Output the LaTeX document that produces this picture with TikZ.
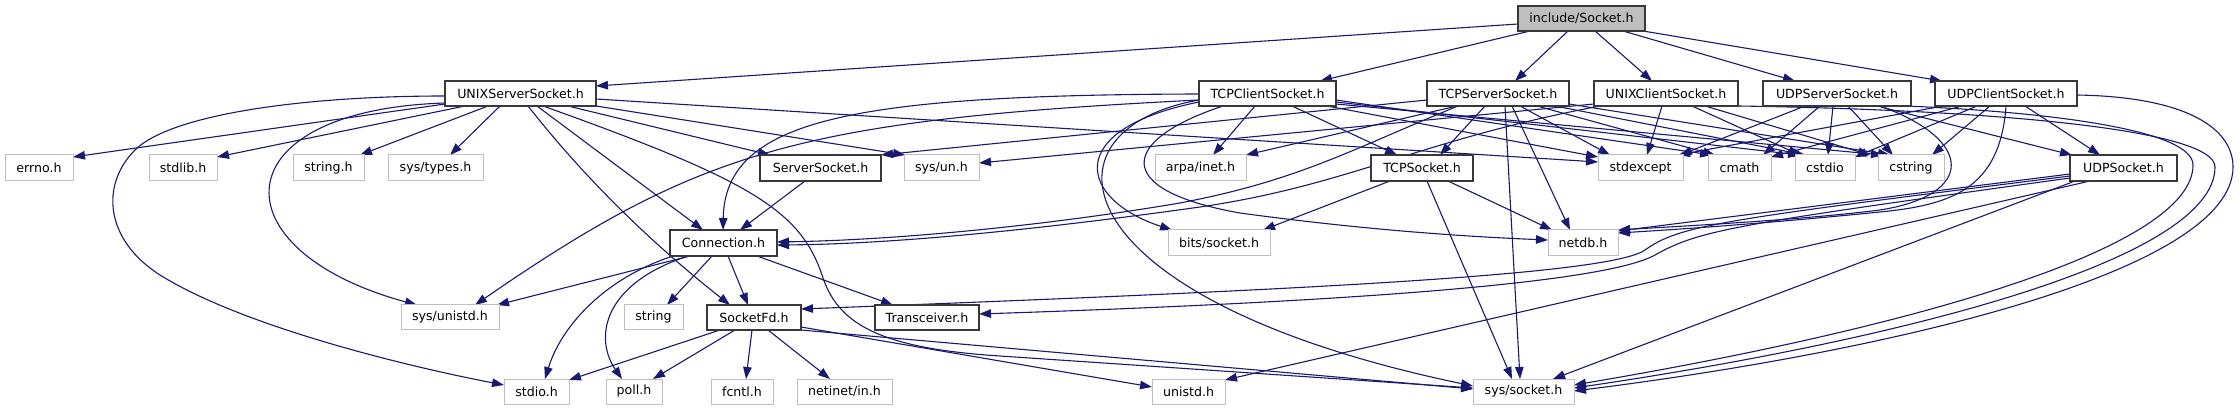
\documentclass[tikz,border=0pt]{standalone}
\usepackage{fontspec}
\setmainfont{DejaVu Sans}
\usetikzlibrary{arrows.meta,backgrounds}
\definecolor{eb}{HTML}{191970}
\definecolor{gb}{HTML}{BFBFBF}
\newcommand\mknode[7]{\node[#1, minimum width={#4-#3}, minimum height={#6-#5}] (#2) at ({(#3+#4)/2},{(#5+#6)/2}) {#7};}
\begin{document}
\begin{tikzpicture}[x=1pt,y=-1pt,
  box/.style={draw=black!78, line width=1.2pt, inner sep=0pt, outer sep=0pt, font=\fontsize{12.6}{15}\selectfont, fill=white},
  ext/.style={box, draw=gb, line width=1pt},
  root/.style={box, fill=gb},
  e/.style={draw=eb, line width=1.1pt, -{Triangle[length=12pt,width=8.5pt]}}]
\useasboundingbox (0,0) rectangle (2240,411);
% nodes
\mknode{root}{R}{1518}{1645}{6}{31}{include/Socket.h}
\mknode{box}{USS}{445}{596}{81}{106}{UNIXServerSocket.h}
\mknode{box}{TCS}{1199}{1336}{81}{106}{TCPClientSocket.h}
\mknode{box}{TSS}{1427}{1569}{81}{106}{TCPServerSocket.h}
\mknode{box}{UCS}{1594}{1738}{81}{106}{UNIXClientSocket.h}
\mknode{box}{DSS}{1763}{1911}{81}{106}{UDPServerSocket.h}
\mknode{box}{DCS}{1935}{2077}{81}{106}{UDPClientSocket.h}
\mknode{ext}{errno}{5}{73}{155}{181}{errno.h}
\mknode{ext}{stdlib}{149}{217}{155}{181}{stdlib.h}
\mknode{ext}{strh}{293}{364}{155}{181}{string.h}
\mknode{ext}{systypes}{388}{483}{155}{181}{sys/types.h}
\mknode{box}{SS}{760}{881}{155}{181}{ServerSocket.h}
\mknode{ext}{sysun}{904}{979}{155}{181}{sys/un.h}
\mknode{ext}{arpa}{1155}{1246}{155}{181}{arpa/inet.h}
\mknode{box}{TCP}{1371}{1473}{155}{181}{TCPSocket.h}
\mknode{ext}{stdexcept}{1598}{1683}{155}{181}{stdexcept}
\mknode{ext}{cmath}{1708}{1771}{155}{181}{cmath}
\mknode{ext}{cstdio}{1795}{1855}{155}{181}{cstdio}
\mknode{ext}{cstring}{1878}{1944}{155}{181}{cstring}
\mknode{box}{UDP}{2070}{2177}{155}{181}{UDPSocket.h}
\mknode{box}{Conn}{670}{777}{230}{256}{Connection.h}
\mknode{ext}{bits}{1168}{1270}{230}{256}{bits/socket.h}
\mknode{ext}{netdb}{1548}{1618}{230}{256}{netdb.h}
\mknode{ext}{unistdsys}{401}{499}{305}{330}{sys/unistd.h}
\mknode{ext}{strg}{624}{683}{305}{330}{string}
\mknode{box}{SFd}{707}{801}{305}{330}{SocketFd.h}
\mknode{box}{Trans}{875}{979}{305}{330}{Transceiver.h}
\mknode{ext}{stdio}{504}{569}{379}{404}{stdio.h}
\mknode{ext}{poll}{606}{662}{379}{404}{poll.h}
\mknode{ext}{fcntl}{711}{773}{379}{404}{fcntl.h}
\mknode{ext}{netinet}{797}{892}{379}{404}{netinet/in.h}
\mknode{ext}{unistd}{1152}{1225}{379}{404}{unistd.h}
\mknode{ext}{syssock}{1473}{1574}{379}{404}{sys/socket.h}
\begin{pgfonlayer}{background}
% root
\draw[e] (R.west |- 0,24) -- (USS.east |- 0,86);
\draw[e] (R.south -| 1530,0) -- (TCS.north -| 1320,0);
\draw[e] (R.south -| 1568,0) -- (TSS.north -| 1515,0);
\draw[e] (R.south -| 1595,0) -- (UCS.north -| 1652,0);
\draw[e] (R.south -| 1623,0) -- (DSS.north -| 1795,0);
\draw[e] (R.south -| 1643,0) -- (DCS.north -| 1942,0);
% UNIXServerSocket
\draw[e] (USS.west |- 0,104) -- (errno.east |- 0,157);
\draw[e] (USS.south -| 465,0) -- (stdlib.east |- 0,157);
\draw[e] (USS.south -| 488,0) -- (strh.north -| 360,0);
\draw[e] (USS.south -| 500,0) -- (systypes.north -| 450,0);
\draw[e] (USS.west |- 0,103) .. controls (220,110) and (215,250) .. (unistdsys.north -| 417,0);
\draw[e] (USS.west |- 0,96) .. controls (300,96) and (170,115) .. (135,150) .. controls (100,185) and (105,240) .. (160,275) .. controls (240,325) and (400,365) .. (stdio.west |- 0,385);
\draw[e] (USS.south -| 568,0) -- (SS.north -| 770,0);
\draw[e] (USS.east |- 0,106) -- (sysun.north -| 905,0);
\draw[e] (USS.east |- 0,99) -- (stdexcept.west |- 0,162);
\draw[e] (USS.south -| 537,0) -- (Conn.north -| 703,0);
\draw[e] (USS.south -| 528,0) .. controls (590,185) and (660,250) .. (SFd.north -| 730,0);
\draw[e] (USS.south -| 543,0) .. controls (750,180) and (800,210) .. (822,275) .. controls (837,322) and (875,348) .. (1000,356) -- (syssock.west |- 0,388);
% TCPClientSocket
\draw[e] (TCS.west |- 0,94) .. controls (850,95) and (725,120) .. (Conn.north -| 723,0);
\draw[e] (TCS.west |- 0,100) .. controls (800,120) and (700,150) .. (unistdsys.north -| 475,0);
\draw[e] (TCS.west |- 0,102) .. controls (1060,130) and (1080,200) .. (bits.north -| 1172,0);
\draw[e] (TCS.west |- 0,100) .. controls (1030,130) and (1060,300) .. (syssock.west |- 0,386);
\draw[e] (TCS.south -| 1223,0) .. controls (1120,140) and (1110,190) .. (1240,213) .. controls (1350,228) and (1450,236) .. (netdb.west |- 0,240);
\draw[e] (TCS.south -| 1255,0) -- (arpa.north -| 1213,0);
\draw[e] (TCS.south -| 1292,0) -- (TCP.north -| 1397,0);
\draw[e] (TCS.south -| 1327,0) -- (stdexcept.west |- 0,157);
\draw[e] (TCS.east |- 0,100) -- (cmath.north -| 1712,0);
\draw[e] (TCS.east |- 0,102) -- (cstdio.north -| 1800,0);
\draw[e] (TCS.east |- 0,104) -- (cstring.north -| 1883,0);
% TCPServerSocket
\draw[e] (TSS.west |- 0,100) -- (SS.east |- 0,155);
\draw[e] (TSS.south -| 1457,0) -- (arpa.east |- 0,155);
\draw[e] (TSS.south -| 1458,0) .. controls (1350,150) and (1300,180) .. (1180,203) .. controls (1050,225) and (900,240) .. (Conn.east |- 0,242);
\draw[e] (TSS.south -| 1485,0) -- (TCP.north -| 1440,0);
\draw[e] (TSS.south -| 1505,0) -- (syssock.north -| 1520,0);
\draw[e] (TSS.south -| 1512,0) -- (netdb.north -| 1570,0);
\draw[e] (TSS.south -| 1520,0) -- (stdexcept.north -| 1610,0);
\draw[e] (TSS.south -| 1537,0) -- (cmath.north -| 1715,0);
\draw[e] (TSS.south -| 1555,0) -- (cstdio.north -| 1805,0);
\draw[e] (TSS.east |- 0,104) -- (cstring.north -| 1890,0);
% UNIXClientSocket
\draw[e] (UCS.west |- 0,104) -- (sysun.east |- 0,163);
\draw[e] (UCS.south -| 1600,0) .. controls (1420,140) and (1350,185) .. (1200,207) .. controls (1050,228) and (900,244) .. (Conn.east |- 0,245);
\draw[e] (UCS.south -| 1662,0) -- (stdexcept.north -| 1647,0);
\draw[e] (UCS.south -| 1692,0) -- (cstdio.north -| 1800,0);
\draw[e] (UCS.south -| 1705,0) -- (cstring.north -| 1870,0);
\draw[e] (UCS.east |- 0,106) .. controls (2000,110) and (2215,130) .. (2215,167) .. controls (2215,260) and (1900,340) .. (syssock.east |- 0,388);
% UDPServerSocket
\draw[e] (DSS.south -| 1805,0) -- (stdexcept.north -| 1680,0);
\draw[e] (DSS.south -| 1820,0) -- (cmath.north -| 1763,0);
\draw[e] (DSS.south -| 1833,0) -- (cstdio.north -| 1828,0);
\draw[e] (DSS.south -| 1848,0) -- (cstring.north -| 1893,0);
\draw[e] (DSS.south -| 1877,0) -- (UDP.north -| 2072,0);
\draw[e] (DSS.south -| 1880,0) .. controls (1975,140) and (1975,195) .. (1880,210) .. controls (1800,220) and (1700,225) .. (netdb.east |- 0,230);
\draw[e] (DSS.south -| 1905,0) .. controls (2050,112) and (2193,130) .. (2193,165) .. controls (2193,250) and (1900,330) .. (syssock.east |- 0,385);
% UDPClientSocket
\draw[e] (DCS.south -| 2025,0) -- (UDP.north -| 2100,0);
\draw[e] (DCS.south -| 1990,0) -- (cstring.north -| 1932,0);
\draw[e] (DCS.south -| 1977,0) -- (cstdio.east |- 0,157);
\draw[e] (DCS.south -| 1962,0) -- (cmath.east |- 0,157);
\draw[e] (DCS.south -| 1943,0) -- (stdexcept.north -| 1678,0);
\draw[e] (DCS.south -| 2006,0) .. controls (2000,190) and (1950,205) .. (1880,212) .. controls (1780,222) and (1700,228) .. (netdb.east |- 0,233);
\draw[e] (DCS.east |- 0,95) .. controls (2190,97) and (2233,130) .. (2233,167) .. controls (2233,270) and (1900,350) .. (syssock.east |- 0,391);
% TCPSocket
\draw[e] (TCP.south -| 1390,0) -- (bits.north -| 1263,0);
\draw[e] (TCP.south -| 1448,0) -- (netdb.north -| 1552,0);
\draw[e] (TCP.south -| 1427,0) -- (syssock.north -| 1512,0);
% UDPSocket
\draw[e] (UDP.west |- 0,174) -- (netdb.east |- 0,231);
\draw[e] (UDP.west |- 0,176) .. controls (1720,220) and (1680,225) .. (1645,250) .. controls (1610,275) and (1300,290) .. (SFd.east |- 0,309);
\draw[e] (UDP.west |- 0,178) .. controls (1730,225) and (1700,230) .. (1655,255) .. controls (1610,280) and (1400,300) .. (Trans.east |- 0,314);
\draw[e] (UDP.south -| 2090,0) -- (unistd.east |- 0,380);
\draw[e] (UDP.south -| 2075,0) -- (syssock.north -| 1553,0);
% ServerSocket
\draw[e] (SS.south -| 805,0) -- (Conn.north -| 740,0);
% Connection
\draw[e] (Conn.south -| 690,0) -- (unistdsys.north -| 497,0);
\draw[e] (Conn.south -| 673,0) .. controls (600,280) and (560,330) .. (stdio.north -| 545,0);
\draw[e] (Conn.south -| 688,0) .. controls (600,285) and (595,340) .. (poll.north -| 622,0);
\draw[e] (Conn.south -| 712,0) -- (strg.north -| 667,0);
\draw[e] (Conn.south -| 728,0) -- (SFd.north -| 748,0);
\draw[e] (Conn.south -| 757,0) -- (Trans.north -| 893,0);
% SocketFd
\draw[e] (SFd.south -| 720,0) -- (stdio.east |- 0,380);
\draw[e] (SFd.south -| 735,0) -- (poll.north -| 653,0);
\draw[e] (SFd.south -| 752,0) -- (fcntl.north -| 746,0);
\draw[e] (SFd.south -| 768,0) -- (netinet.north -| 830,0);
\draw[e] (SFd.east |- 0,327) -- (unistd.west |- 0,387);
\draw[e] (SFd.east |- 0,330) -- (syssock.west |- 0,389);
\end{pgfonlayer}
\end{tikzpicture}
\end{document}
